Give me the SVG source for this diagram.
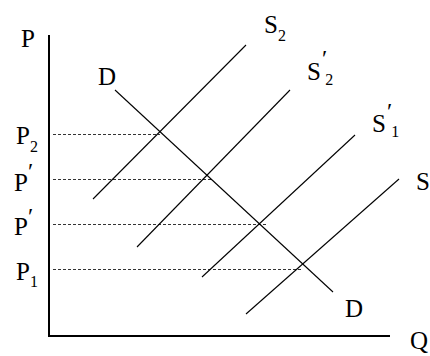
<svg xmlns="http://www.w3.org/2000/svg" width="430" height="356" viewBox="0 0 430 356">
<style>
.t{font-family:"Liberation Serif","Times New Roman",serif;font-size:25px;fill:#000}
.s{font-size:16px}
.pr{font-size:24px}
.ax{stroke:#000;stroke-width:2;fill:none}
.ln{stroke:#000;stroke-width:1.1;fill:none}
.ds{stroke:#333;stroke-width:1;stroke-dasharray:3 2;fill:none}
</style>
<rect width="430" height="356" fill="#fff"/>
<g id="axes">
<path class="ax" d="M49,35 V336 H390"/>
<text class="t" x="21" y="47">P</text>
<text class="t" x="410" y="349">Q</text>
</g>
<g id="connectors">
<line class="ds" x1="53" y1="134.5" x2="160" y2="134.5"/>
<line class="ds" x1="53" y1="179.5" x2="211" y2="179.5"/>
<line class="ds" x1="53" y1="224.5" x2="267" y2="224.5"/>
<line class="ds" x1="53" y1="269.5" x2="301" y2="269.5"/>
</g>
<g id="demand">
<line class="ln" x1="115" y1="90" x2="333" y2="292"/>
<text class="t" x="98" y="85">D</text>
<text class="t" x="345" y="317">D</text>
</g>
<g id="S2">
<line class="ln" x1="93" y1="199" x2="246" y2="45"/>
<text class="t" x="264" y="33">S<tspan class="s" dy="8">2</tspan></text>
</g>
<g id="S2prime">
<line class="ln" x1="137" y1="247" x2="290" y2="90"/>
<text class="t" x="307" y="80">S<tspan class="pr" dx="1" dy="-14">′</tspan><tspan class="s" dx="-2" dy="19">2</tspan></text>
</g>
<g id="S1prime">
<line class="ln" x1="202" y1="277" x2="355" y2="135"/>
<text class="t" x="372" y="132">S<tspan class="pr" dx="1" dy="-13">′</tspan><tspan class="s" dx="-1" dy="18">1</tspan></text>
</g>
<g id="S">
<line class="ln" x1="246" y1="314" x2="399" y2="179"/>
<text class="t" x="416" y="190">S</text>
</g>
<g id="price-labels">
<text class="t" x="16" y="144">P<tspan class="s" dy="8">2</tspan></text>
<text class="t" x="14" y="191">P<tspan class="pr" dx="0" dy="-12">′</tspan></text>
<text class="t" x="14" y="235">P<tspan class="pr" dx="0" dy="-11">′</tspan></text>
<text class="t" x="16" y="280">P<tspan class="s" dy="7">1</tspan></text>
</g>
</svg>
